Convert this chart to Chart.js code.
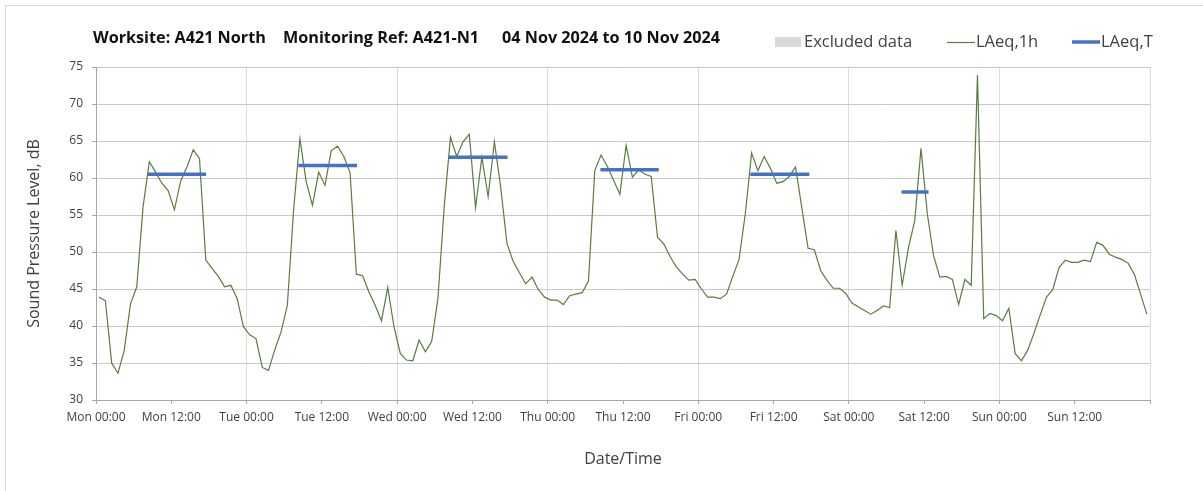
<!DOCTYPE html>
<html>
<head>
<meta charset="utf-8">
<script src="https://cdn.jsdelivr.net/npm/chart.js@4.4.1/dist/chart.umd.min.js"></script>
<style>
  html, body { margin: 0; padding: 0; background: #fff; }
  #wrap { position: relative; width: 1203px; height: 491px; }
  #frame { position: absolute; left: 5px; top: 5px; right: 0; bottom: 0; border-left: 1px solid #d9d9d9; border-top: 1px solid #d9d9d9; }
  canvas { position: absolute; left: 0; top: 0; }
</style>
</head>
<body>
<div id="wrap">
  <div id="frame"></div>
  <canvas id="noiseChart" width="1203" height="491"></canvas>
</div>
<script>
// hourly LAeq,1h values, Mon 00:00 -> Sun 23:00
const laeq1h = [
  43.9, 43.4, 35.0, 33.6, 36.7, 43.0, 45.3, 56.1, 62.2, 60.8, 59.3, 58.3, 55.7, 59.6, 61.5, 63.8, 62.6, 48.9, 47.8, 46.7, 45.3, 45.5, 43.7, 39.9,
  38.8, 38.3, 34.4, 34.0, 36.8, 39.2, 42.8, 55.7, 65.3, 59.5, 56.3, 60.8, 59.0, 63.7, 64.3, 62.9, 60.7, 47.0, 46.8, 44.6, 42.8, 40.7, 45.2, 39.9,
  36.3, 35.4, 35.3, 38.1, 36.5, 37.9, 43.7, 56.1, 65.5, 62.9, 64.9, 65.9, 56.0, 62.8, 57.5, 64.9, 58.8, 51.2, 48.7, 47.2, 45.7, 46.6, 44.9, 43.9,
  43.5, 43.5, 42.9, 44.1, 44.3, 44.5, 46.1, 61.0, 63.1, 61.6, 59.7, 57.8, 64.4, 60.1, 61.1, 60.5, 60.2, 52.0, 51.1, 49.4, 48.0, 47.0, 46.2, 46.3,
  45.0, 43.9, 43.9, 43.7, 44.3, 46.7, 49.0, 55.2, 63.4, 61.0, 62.9, 61.3, 59.3, 59.5, 60.2, 61.5, 56.0, 50.5, 50.3, 47.5, 46.2, 45.1, 45.1, 44.4,
  43.1, 42.6, 42.1, 41.6, 42.1, 42.7, 42.5, 52.9, 45.5, 50.6, 54.2, 64.0, 55.2, 49.5, 46.6, 46.7, 46.3, 42.9, 46.3, 45.5, 73.9, 41.0, 41.7, 41.4,
  40.7, 42.4, 36.3, 35.3, 36.7, 39.0, 41.5, 43.9, 44.9, 47.9, 48.9, 48.6, 48.6, 48.9, 48.7, 51.3, 50.9, 49.7, 49.3, 49.0, 48.5, 47.0, 44.3, 41.6
]
const hourOffset = 0.5

// LAeq,T daytime periods (hours from Mon 00:00)
const periodStart = [8.25, 32.25, 56.2, 80.4, 104.3, 128.4]
const periodEnd = [17.55, 41.6, 65.6, 89.7, 113.7, 132.7]
const periodLevel = [60.5, 61.7, 62.8, 61.1, 60.5, 58.1]

const xTickLabels = ['Mon 00:00', 'Mon 12:00', 'Tue 00:00', 'Tue 12:00', 'Wed 00:00', 'Wed 12:00', 'Thu 00:00',
  'Thu 12:00', 'Fri 00:00', 'Fri 12:00', 'Sat 00:00', 'Sat 12:00', 'Sun 00:00', 'Sun 12:00']
const titleParts = ['Worksite: A421 North', 'Monitoring Ref: A421-N1', '04 Nov 2024 to 10 Nov 2024']

const green = '#5a7c3e'
const blue = '#4472c4'
const greyBox = '#d9d9d9'
const textCol = '#404040'
const fontName = '"Open Sans", "Noto Sans", sans-serif'

var periodData = []
periodStart.forEach((s, i) => {
  periodData.push({ x: s, y: periodLevel[i] })
  periodData.push({ x: periodEnd[i], y: periodLevel[i] })
  periodData.push({ x: periodEnd[i], y: null })
})

// title + legend row, drawn on top of the canvas
const headerPlugin = {
  id: 'header',
  afterDraw(chart) {
    const ctx = chart.ctx
    ctx.save()
    ctx.textBaseline = 'middle'
    ctx.fillStyle = '#111'
    ctx.font = 'bold 16.2px ' + fontName
    const tx = [93, 283, 502]
    titleParts.forEach((t, i) => ctx.fillText(t, tx[i], 38))

    const ds = chart.data.datasets
    ctx.font = '16.5px ' + fontName
    ctx.fillStyle = greyBox
    ctx.fillRect(775, 37, 26, 10)
    ctx.fillStyle = textCol
    ctx.fillText(ds[2].label, 804, 42)

    ctx.strokeStyle = green
    ctx.lineWidth = 1.2
    ctx.beginPath(); ctx.moveTo(947, 42.5); ctx.lineTo(975, 42.5); ctx.stroke()
    ctx.fillText(ds[0].label, 976, 42)

    ctx.strokeStyle = blue
    ctx.lineWidth = 3.5
    ctx.beginPath(); ctx.moveTo(1072, 42); ctx.lineTo(1100, 42); ctx.stroke()
    ctx.fillText(ds[1].label, 1101, 42)
    ctx.restore()
  }
}

const speedCanvas = document.getElementById('noiseChart')
const noiseChart = new Chart(speedCanvas, {
  type: 'line',
  data: {
    datasets: [{
      label: 'LAeq,1h',
      data: laeq1h.map((v, i) => ({ x: i + hourOffset, y: v })),
      borderColor: green,
      borderWidth: 1.2,
      pointRadius: 0,
      tension: 0,
      order: 2
    }, {
      label: 'LAeq,T',
      data: periodData,
      borderColor: blue,
      borderWidth: 3.5,
      pointRadius: 0,
      spanGaps: false,
      order: 1
    }, {
      label: 'Excluded data',
      data: [],
      backgroundColor: greyBox,
      borderColor: greyBox,
      order: 3
    }]
  },
  options: {
    responsive: false,
    animation: false,
    layout: { padding: { left: 20, right: 53, top: 67, bottom: 21 } },
    plugins: {
      legend: { display: false },
      tooltip: { enabled: false }
    },
    scales: {
      x: {
        type: 'linear',
        min: 0,
        max: 168,
        afterFit: s => { s.height = 70 },
        ticks: {
          stepSize: 12,
          autoSkip: false,
          maxRotation: 0,
          padding: 6,
          color: textCol,
          font: { family: fontName, size: 12 },
          callback: v => xTickLabels[v / 12] || ''
        },
        grid: {
          color: c => (c.tick && c.tick.value % 24 === 0) ? '#dcdcdc' : 'rgba(0,0,0,0)',
          tickColor: '#a6a6a6',
          tickLength: 4
        },
        border: { color: '#a6a6a6' },
        title: {
          display: true,
          text: 'Date/Time',
          color: textCol,
          font: { family: fontName, size: 16 },
          padding: { top: 0, bottom: 1 }
        }
      },
      y: {
        min: 30,
        max: 75,
        afterFit: s => { s.width = 76 },
        ticks: {
          stepSize: 5,
          padding: 9,
          color: textCol,
          font: { family: fontName, size: 12 }
        },
        grid: { color: '#c8c8c8', tickColor: '#a6a6a6', tickLength: 4 },
        border: { color: '#a6a6a6' },
        title: {
          display: true,
          text: 'Sound Pressure Level, dB',
          color: textCol,
          font: { family: fontName, size: 16 },
          padding: { top: 5, bottom: 0 }
        }
      }
    }
  },
  plugins: [headerPlugin]
})
</script>
</body>
</html>
